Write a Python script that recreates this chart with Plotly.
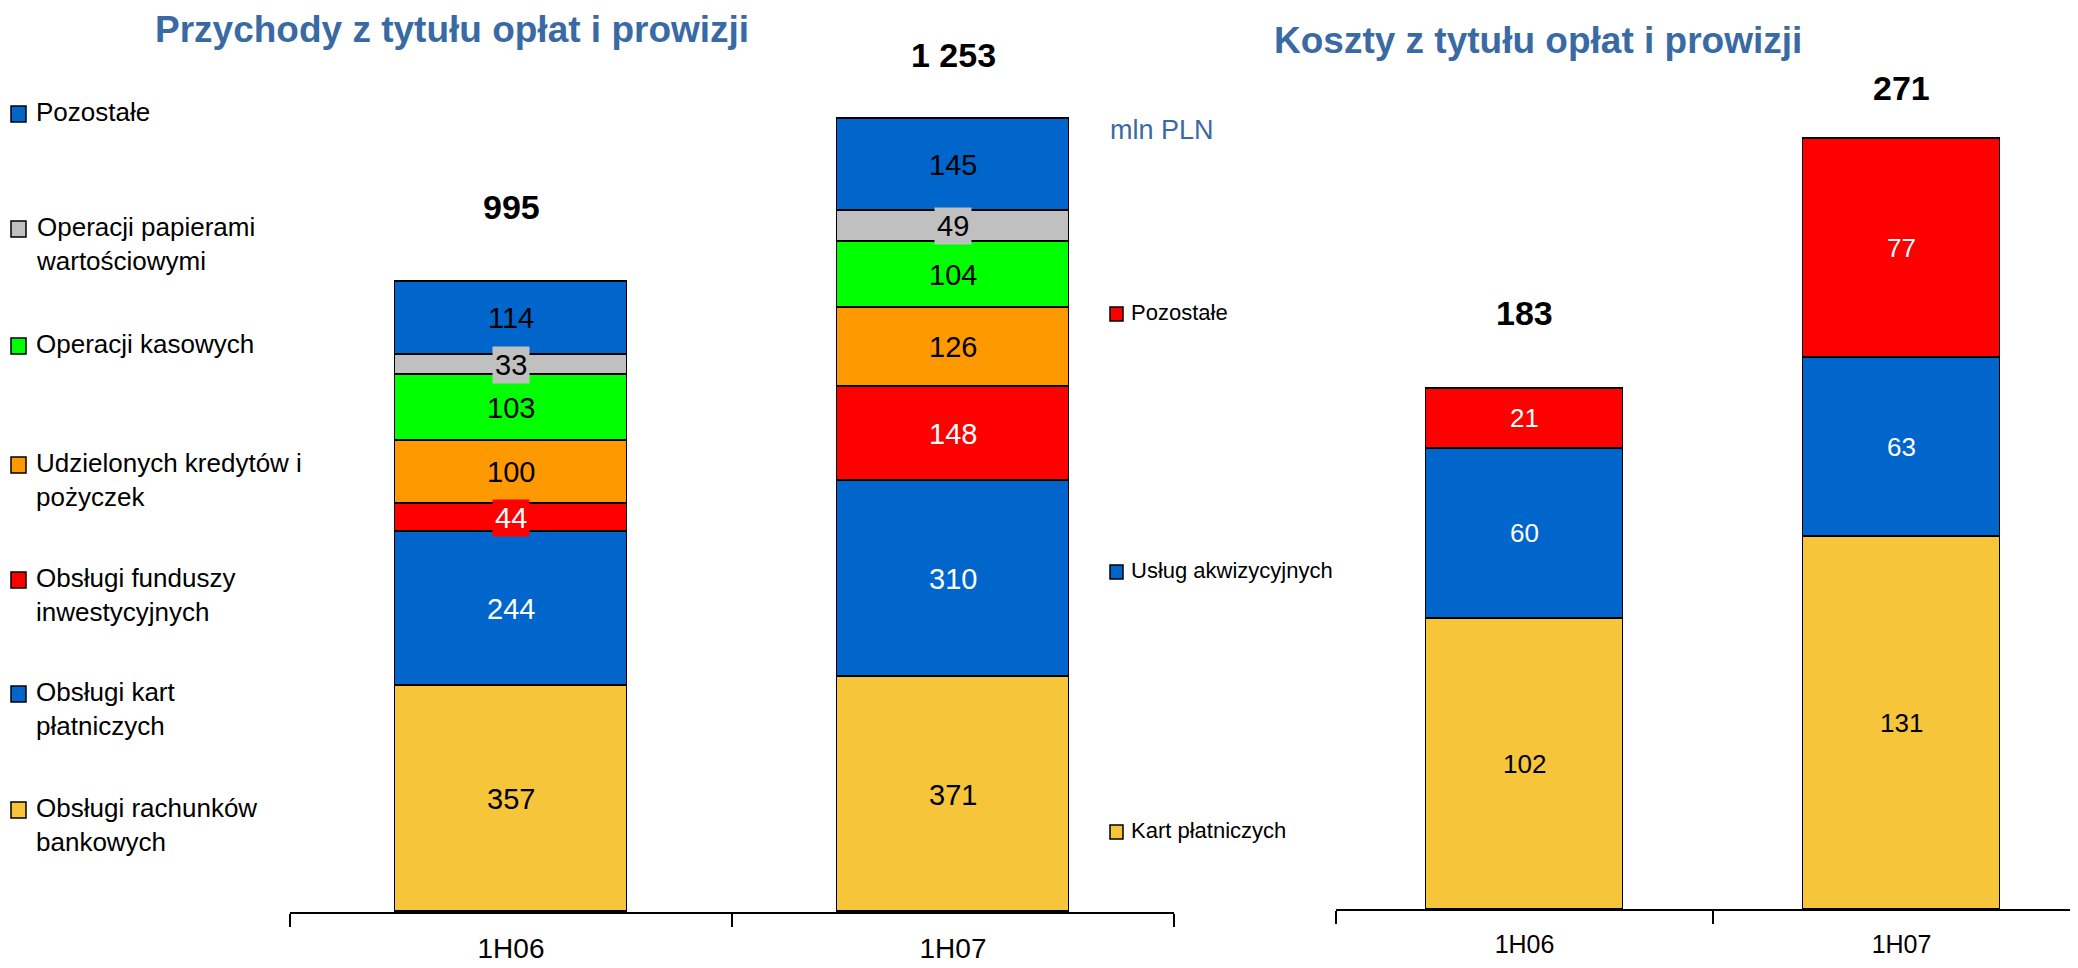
import plotly.graph_objects as go

# ---------------- data ----------------
periods = ["1H06", "1H07"]

rev_categories = [
    "Obsługi rachunków<br>bankowych",
    "Obsługi kart<br>płatniczych",
    "Obsługi funduszy<br>inwestycyjnych",
    "Udzielonych kredytów i<br>pożyczek",
    "Operacji kasowych",
    "Operacji papierami<br>wartościowymi",
    "Pozostałe",
]
rev_1h06 = [357, 244, 44, 100, 103, 33, 114]
rev_1h07 = [371, 310, 148, 126, 104, 49, 145]
rev_totals = ["995", "1 253"]

cost_categories = ["Kart płatniczych", "Usług akwizycyjnych", "Pozostałe"]
cost_1h06 = [102, 60, 21]
cost_1h07 = [131, 63, 77]
cost_totals = ["183", "271"]

title_rev = "Przychody z tytułu opłat i prowizji"
title_cost = "Koszty z tytułu opłat i prowizji"
unit_label = "mln PLN"

# ---------------- styles ----------------
YELLOW, BLUE, RED, ORANGE, GREEN, GRAY = "#F6C53A", "#0066CC", "#FF0000", "#FF9900", "#00FF00", "#C0C0C0"
rev_colors = [YELLOW, BLUE, RED, ORANGE, GREEN, GRAY, BLUE]
rev_text_colors = ["black", "white", "white", "black", "black", "black", "black"]
cost_colors = [YELLOW, BLUE, RED]
cost_text_colors = ["black", "white", "white"]
TITLE_COLOR = "#3A6AA3"
FONT = "Liberation Sans, Arial, sans-serif"

W, H = 2078, 968
OFF = 8  # page body margin in the browser


def px_x(p):
    return (p - OFF) / W


def px_y(p):
    return 1 - (p - OFF) / H


# left panel geometry (page pixels)
L_BASE, L_PPU, L_RANGE = 912, 0.633, 1400
L_X0, L_X1 = 290, 1174
# right panel geometry
R_BASE, R_PPU, R_RANGE = 909, 2.845, 300
R_X0, R_CAT = 1336, 377

fig = go.Figure()


def add_stack(cats, v1, v2, colors, xa, ya):
    for i, c in enumerate(cats):
        fig.add_trace(go.Bar(
            x=periods, y=[v1[i], v2[i]], name=c.replace("<br>", " "),
            marker=dict(color=colors[i], line=dict(color="black", width=1.5)),
            width=0.525, xaxis=xa, yaxis=ya, showlegend=False,
            hoverinfo="x+y+name",
        ))


add_stack(rev_categories, rev_1h06, rev_1h07, rev_colors, "x", "y")
add_stack(cost_categories, cost_1h06, cost_1h07, cost_colors, "x2", "y2")

annotations = []


def seg_labels(v1, v2, colors, tcolors, xref, yref, ppu, size):
    for p, vals in zip(periods, [v1, v2]):
        base = 0
        for i, v in enumerate(vals):
            boxed = v * ppu < 40
            annotations.append(dict(
                x=p, y=base + v / 2, xref=xref, yref=yref, text=str(v),
                showarrow=False, font=dict(size=size, color=tcolors[i], family=FONT),
                bgcolor=colors[i] if boxed else None, borderpad=2,
                xanchor="center", yanchor="middle",
            ))
            base += v


seg_labels(rev_1h06, rev_1h07, rev_colors, rev_text_colors, "x", "y", L_PPU, 29)
seg_labels(cost_1h06, cost_1h07, cost_colors, cost_text_colors, "x2", "y2", R_PPU, 26)

# totals
rev_sums = [sum(rev_1h06), sum(rev_1h07)]
cost_sums = [sum(cost_1h06), sum(cost_1h07)]
for p, s, t, sh in zip(periods, rev_sums, rev_totals, [75, 64]):
    annotations.append(dict(x=p, y=s, xref="x", yref="y", text=f"<b>{t}</b>", showarrow=False,
                            yshift=sh, yanchor="middle",
                            font=dict(size=34, color="black", family=FONT)))
for p, s, t, sh in zip(periods, cost_sums, cost_totals, [75, 50]):
    annotations.append(dict(x=p, y=s, xref="x2", yref="y2", text=f"<b>{t}</b>", showarrow=False,
                            yshift=sh, yanchor="middle",
                            font=dict(size=34, color="black", family=FONT)))

# titles
annotations.append(dict(x=px_x(452), y=px_y(29), xref="paper", yref="paper", text=f"<b>{title_rev}</b>",
                        showarrow=False, xanchor="center", yanchor="middle",
                        font=dict(size=37, color=TITLE_COLOR, family=FONT)))
annotations.append(dict(x=px_x(1538), y=px_y(40), xref="paper", yref="paper", text=f"<b>{title_cost}</b>",
                        showarrow=False, xanchor="center", yanchor="middle",
                        font=dict(size=37, color=TITLE_COLOR, family=FONT)))
annotations.append(dict(x=px_x(1108), y=px_y(130), xref="paper", yref="paper", text=unit_label,
                        showarrow=False, xanchor="left", yanchor="middle",
                        font=dict(size=27, color=TITLE_COLOR, family=FONT)))

shapes = []


def legend(cats, colors, centers, sq_x0, sq_w, sq_h, text_x, size):
    # legend listed top->bottom, i.e. reverse of stack order
    for c, col, cy in zip(cats[::-1], colors[::-1], centers):
        shapes.append(dict(type="rect", xref="paper", yref="paper",
                           x0=px_x(sq_x0), x1=px_x(sq_x0 + sq_w),
                           y0=px_y(cy + sq_h / 2), y1=px_y(cy - sq_h / 2),
                           fillcolor=col, line=dict(color="black", width=1.5)))
        annotations.append(dict(x=px_x(text_x), y=px_y(cy - size * 0.68), xref="paper", yref="paper",
                                text=c, showarrow=False, xanchor="left", yanchor="top", align="left",
                                borderpad=0,
                                font=dict(size=size, color="black", family=FONT)))


legend(rev_categories, rev_colors, [114, 229, 346, 465, 580, 694, 810], 11, 15, 16, 35, 26)
legend(cost_categories, cost_colors, [314, 572, 832], 1110, 13, 14, 1130, 22)

axis_common = dict(type="category", showline=True, linecolor="black", linewidth=2,
                   ticks="outside", ticklen=13, tickwidth=1.5, tickcolor="black",
                   tickson="boundaries", showgrid=False, zeroline=False, fixedrange=True)

fig.update_layout(
    width=W, height=H, margin=dict(l=0, r=0, t=0, b=0),
    paper_bgcolor="white", plot_bgcolor="white",
    barmode="stack", bargap=0,
    font=dict(family=FONT, color="black"),
    xaxis=dict(**axis_common, domain=[px_x(L_X0), px_x(L_X1)], range=[-0.5, 1.5],
               tickfont=dict(size=28, family=FONT), ticklabelstandoff=10, anchor="y"),
    yaxis=dict(visible=False, range=[0, L_RANGE],
               domain=[px_y(L_BASE), px_y(L_BASE - L_RANGE * L_PPU)], anchor="x"),
    xaxis2=dict(**axis_common, domain=[px_x(R_X0), 1.0],
                range=[-0.5, -0.5 + (W + OFF - R_X0) / R_CAT],
                tickfont=dict(size=25, family=FONT), ticklabelstandoff=12, anchor="y2"),
    yaxis2=dict(visible=False, range=[0, R_RANGE],
                domain=[px_y(R_BASE), min(1.0, px_y(R_BASE - R_RANGE * R_PPU))], anchor="x2"),
    annotations=annotations,
    shapes=shapes,
    showlegend=False,
)

fig.write_html("out.html")
